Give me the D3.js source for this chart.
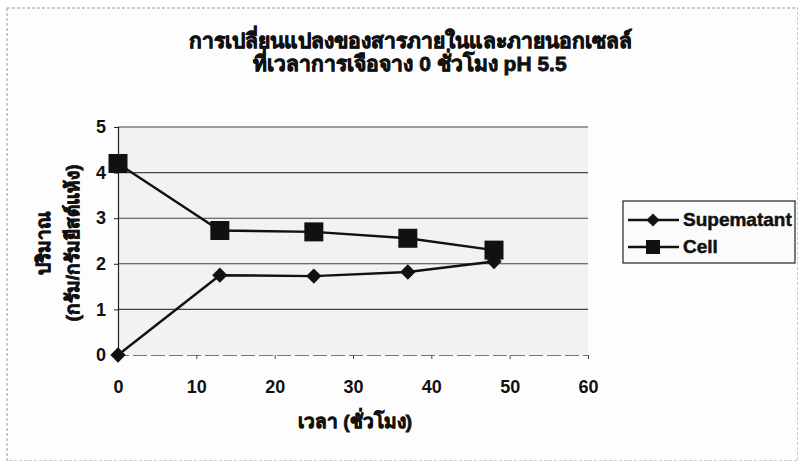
<!DOCTYPE html>
<html>
<head>
<meta charset="utf-8">
<script src="https://cdn.jsdelivr.net/npm/d3@7/dist/d3.min.js"></script>
<style>
  html, body { margin: 0; padding: 0; background: #ffffff; }
  svg { display: block; }
  text { font-family: "Liberation Sans", Arial, sans-serif; font-weight: bold; fill: #111; }
  .thai { stroke: #111; stroke-width: 0.8; }
</style>
</head>
<body>
<svg id="chart" width="798" height="461"></svg>
<script>
// Time after start (hours)
const hours = [0, 13, 25, 37, 48];
// Amount (g / g dry yeast)
const supernatant = [0, 1.75, 1.73, 1.82, 2.05];
const cell = [4.2, 2.73, 2.70, 2.56, 2.30];
const seriesNames = ["Supematant", "Cell"];
const xTicks = [0, 10, 20, 30, 40, 50, 60];
const yTicks = [0, 1, 2, 3, 4, 5];
const titleLines = ["การเปลี่ยนแปลงของสารภายในและภายนอกเซลล์", "ที่เวลาการเจือจาง 0 ชั่วโมง pH 5.5"];
const yTitleLines = ["ปริมาณ", "(กรัม/กรัมยีสต์แห้ง)"];
const xTitle = "เวลา (ชั่วโมง)";

const svg = d3.select("#chart");
const W = 798, H = 461;

// outer chart frame
svg.append("rect")
  .attr("x", 7).attr("y", 8).attr("width", W - 7).attr("height", H - 8)
  .attr("fill", "#fdfdfd").attr("stroke", "#999").attr("stroke-width", 1)
  .attr("stroke-dasharray", "3,2");

const plot = { left: 118, right: 588, top: 127, bottom: 355 };
const x = d3.scaleLinear().domain([0, 60]).range([plot.left, plot.right]);
const y = d3.scaleLinear().domain([0, 5]).range([plot.bottom, plot.top]);

// plot area tint
svg.append("rect")
  .attr("x", plot.left).attr("y", plot.top)
  .attr("width", plot.right - plot.left).attr("height", plot.bottom - plot.top)
  .attr("fill", "#f2f2f2");

// horizontal gridlines
svg.append("g").selectAll("line").data(yTicks.filter(d => d > 0)).join("line")
  .attr("x1", plot.left).attr("x2", plot.right)
  .attr("y1", d => y(d)).attr("y2", d => y(d))
  .attr("stroke", "#444").attr("stroke-width", 1.1);

// y axis
const yAxis = svg.append("g")
  .attr("transform", `translate(${plot.left},0)`)
  .call(d3.axisLeft(y).tickValues(yTicks).tickSize(4).tickPadding(8).tickFormat(d3.format("d")));
yAxis.select(".domain").attr("stroke", "#222").attr("stroke-width", 1.2);
yAxis.selectAll(".tick line").attr("stroke", "#222");
yAxis.selectAll("text").attr("font-size", 18).attr("font-family", "Liberation Sans, Arial, sans-serif").attr("font-weight", "bold").attr("fill", "#111");

// x axis
const xAxis = svg.append("g")
  .attr("transform", `translate(0,${plot.bottom})`)
  .call(d3.axisBottom(x).tickValues(xTicks).tickSize(4).tickPadding(21).tickFormat(d3.format("d")));
xAxis.select(".domain").attr("stroke", "#777").attr("stroke-width", 1).attr("stroke-dasharray", "14,4");
xAxis.selectAll(".tick line").attr("stroke", "#444");
xAxis.selectAll("text").attr("font-size", 18).attr("font-family", "Liberation Sans, Arial, sans-serif").attr("font-weight", "bold").attr("fill", "#111");

// series lines
const line = d3.line().x((d, i) => x(hours[i])).y(d => y(d));
[supernatant, cell].forEach(vals => {
  svg.append("path").datum(vals)
    .attr("d", line).attr("fill", "none")
    .attr("stroke", "#111").attr("stroke-width", 2.4);
});

// markers
const diamond = d3.symbol().type(d3.symbolDiamond2).size(150);
svg.append("g").selectAll("path").data(supernatant).join("path")
  .attr("transform", (d, i) => `translate(${x(hours[i])},${y(d)})`)
  .attr("d", diamond).attr("fill", "#111");

const sq = 19;
svg.append("g").selectAll("rect").data(cell).join("rect")
  .attr("x", (d, i) => x(hours[i]) - sq / 2)
  .attr("y", d => y(d) - sq / 2)
  .attr("width", sq).attr("height", sq)
  .attr("fill", "#111");

// titles
svg.append("g").selectAll("text").data(titleLines).join("text")
  .attr("class", "thai")
  .attr("x", 410).attr("y", (d, i) => 48 + i * 23)
  .attr("text-anchor", "middle").attr("font-size", 21)
  .text(d => d);

svg.append("g").selectAll("text").data(yTitleLines).join("text")
  .attr("class", "thai")
  .attr("transform", (d, i) => `translate(${50 + i * 29},243) rotate(-90)`)
  .attr("text-anchor", "middle").attr("font-size", 19)
  .text(d => d);

svg.append("text")
  .attr("class", "thai")
  .attr("x", 355).attr("y", 428)
  .attr("text-anchor", "middle").attr("font-size", 19)
  .text(xTitle);

// legend
const lg = svg.append("g");
lg.append("rect").attr("x", 623).attr("y", 201).attr("width", 172).attr("height", 62)
  .attr("fill", "#fbfbfb").attr("stroke", "#222").attr("stroke-width", 1.2);
seriesNames.forEach((name, i) => {
  const cy = 220 + i * 27;
  lg.append("line").attr("x1", 628).attr("x2", 679).attr("y1", cy).attr("y2", cy)
    .attr("stroke", "#111").attr("stroke-width", 2.4);
  if (i === 0) {
    lg.append("path").attr("transform", `translate(653,${cy})`)
      .attr("d", d3.symbol().type(d3.symbolDiamond2).size(110)).attr("fill", "#111");
  } else {
    lg.append("rect").attr("x", 646).attr("y", cy - 7).attr("width", 14).attr("height", 14).attr("fill", "#111");
  }
  lg.append("text").attr("x", 683).attr("y", cy + 6).attr("font-size", 19).attr("font-weight", "normal")
    .attr("font-family", "Liberation Sans, Arial, sans-serif")
    .attr("stroke", "#111").attr("stroke-width", 0.5)
    .text(name);
});
</script>
</body>
</html>
